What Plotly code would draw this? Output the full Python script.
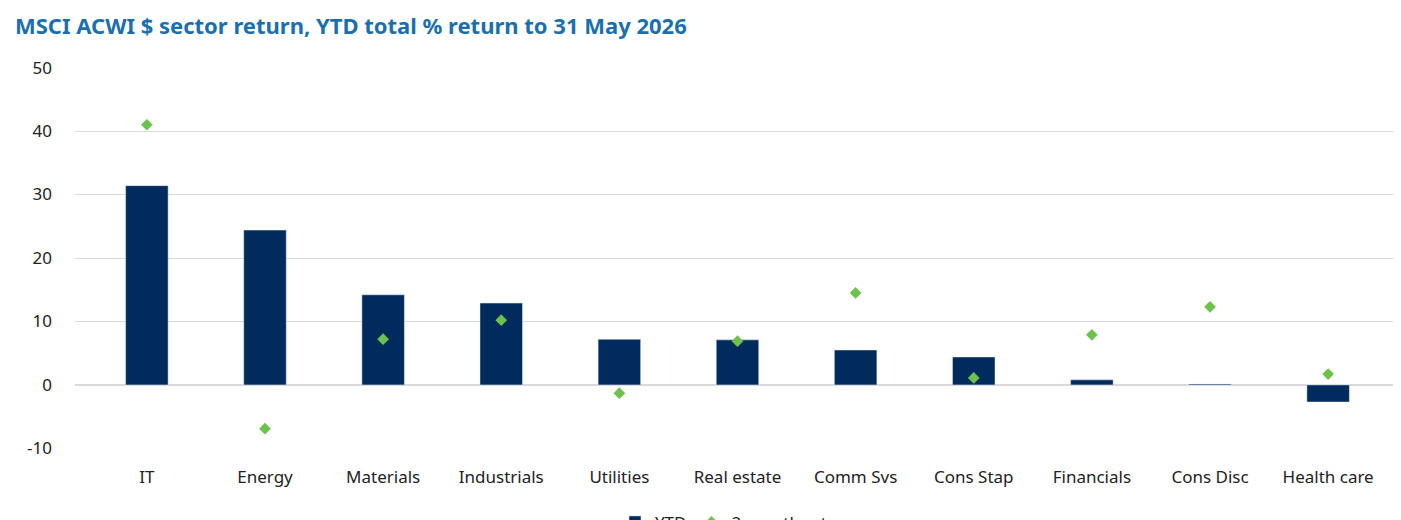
import plotly.graph_objects as go

sectors = ["IT","Energy","Materials","Industrials","Utilities","Real estate","Comm Svs","Cons Stap","Financials","Cons Disc","Health care"]
ytd = [31.4,24.4,14.2,12.9,7.2,7.1,5.5,4.4,0.8,0.15,-2.7]
two_month = [41.0,-6.9,7.2,10.2,-1.3,6.9,14.5,1.1,7.9,12.3,1.7]
ytick_vals = [-10, 0, 10, 20, 30, 40, 50]
ytick_text = ["-10", "0", "10", "20", "30", "40", "50"]

fig = go.Figure()
fig.add_trace(go.Bar(x=sectors, y=ytd, name="YTD", marker_color="#002b5c", width=0.36))
fig.add_trace(go.Scatter(x=sectors, y=two_month, name="2-month return", mode="markers",
                         marker=dict(symbol="diamond", size=9, color="#6cc24a")))
fig.update_layout(
    width=1401, height=520, plot_bgcolor="white", paper_bgcolor="white",
    font=dict(family="Noto Sans", size=17, color="#222"),
    title=dict(text="<b>MSCI ACWI $ sector return, YTD total % return to 31 May 2026</b>",
               x=0.005, xanchor="left", y=0.965, yanchor="middle",
               font=dict(size=22, color="#1a6fb0")),
    margin=dict(l=67, r=9, t=59, b=79, autoexpand=False),
    legend=dict(orientation="h", x=0.5, xanchor="center", y=-0.145, yanchor="top", font=dict(size=17)),
    bargap=0.5,
)
fig.update_yaxes(range=[-10.1, 50.1], tickvals=ytick_vals, ticktext=ytick_text, showgrid=True,
                 gridcolor="#d9d9d9", zeroline=True, zerolinecolor="#d9d9d9", ticks="",
                 ticklabelstandoff=22, automargin=False)
fig.update_xaxes(showline=False, ticks="", ticklabelstandoff=16, automargin=False)
fig.write_html("out.html")
